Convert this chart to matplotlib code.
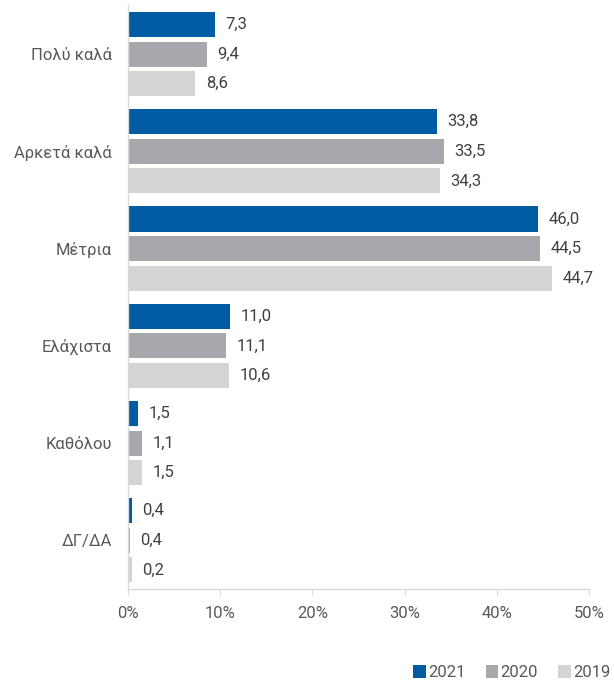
import matplotlib.pyplot as plt
from matplotlib.patches import Patch
import numpy as np

plt.rcParams['font.family'] = ['Roboto', 'DejaVu Sans']

# κατηγορίες (από πάνω προς τα κάτω)
categories = ['Πολύ καλά', 'Αρκετά καλά', 'Μέτρια', 'Ελάχιστα', 'Καθόλου', 'ΔΓ/ΔΑ']
years = ['2021', '2020', '2019']

# μήκη μπαρών όπως φαίνονται στο γράφημα (%)
bars_2021 = [9.4, 33.5, 44.5, 11.1, 1.1, 0.4]
bars_2020 = [8.6, 34.3, 44.7, 10.6, 1.5, 0.2]
bars_2019 = [7.3, 33.8, 46.0, 11.0, 1.5, 0.4]

# ετικέτες τιμών όπως γράφονται στο γράφημα
labels_2021 = ['7,3', '33,8', '46,0', '11,0', '1,5', '0,4']
labels_2020 = ['9,4', '33,5', '44,5', '11,1', '1,1', '0,4']
labels_2019 = ['8,6', '34,3', '44,7', '10,6', '1,5', '0,2']

colors = ['#005ca2', '#a7a8ab', '#d3d4d6']
ticks = [0, 10, 20, 30, 40, 50]


def main():
    fig = plt.figure(figsize=(6.14, 6.82), dpi=100)
    ax = fig.add_axes([0.2085, 0.1364, 0.7505, 0.8556])

    y = np.arange(len(categories))
    step = 0.304
    height = 0.258
    series = [(bars_2021, labels_2021), (bars_2020, labels_2020), (bars_2019, labels_2019)]

    for i, (vals, labs) in enumerate(series):
        pos = y + (i - 1) * step
        ax.barh(pos, vals, height=height, color=colors[i], edgecolor='none')
        for p, v, t in zip(pos, vals, labs):
            ax.annotate(t, (v, p), xytext=(7.5, 0), textcoords='offset points',
                        va='center', ha='left', fontsize=12, color='#404040')

    ax.set_ylim(5.5, -0.5)
    ax.set_xlim(0, 50)
    ax.set_yticks(y)
    ax.set_yticklabels(categories, fontsize=12, color='#595959')
    ax.tick_params(axis='y', length=0, pad=11.5)
    ax.set_xticks(ticks)
    ax.set_xticklabels([f'{t}%' for t in ticks], fontsize=12, color='#595959')
    ax.tick_params(axis='x', length=4, color='#d9d9d9', pad=8.5)

    for s in ['top', 'right']:
        ax.spines[s].set_visible(False)
    for s in ['left', 'bottom']:
        ax.spines[s].set_color('#d9d9d9')
        ax.spines[s].set_linewidth(1)

    handles = [Patch(facecolor=c, edgecolor='none') for c in colors]
    fig.legend(handles, years, loc='lower right', bbox_to_anchor=(0.997, 0.0), ncol=3,
               frameon=False, fontsize=12, handlelength=0.75, handleheight=0.75,
               handletextpad=0.15, columnspacing=1.2, labelcolor='#595959',
               borderpad=0.1, borderaxespad=0.0)

    fig.savefig('out.png', dpi=100)


if __name__ == '__main__':
    main()
